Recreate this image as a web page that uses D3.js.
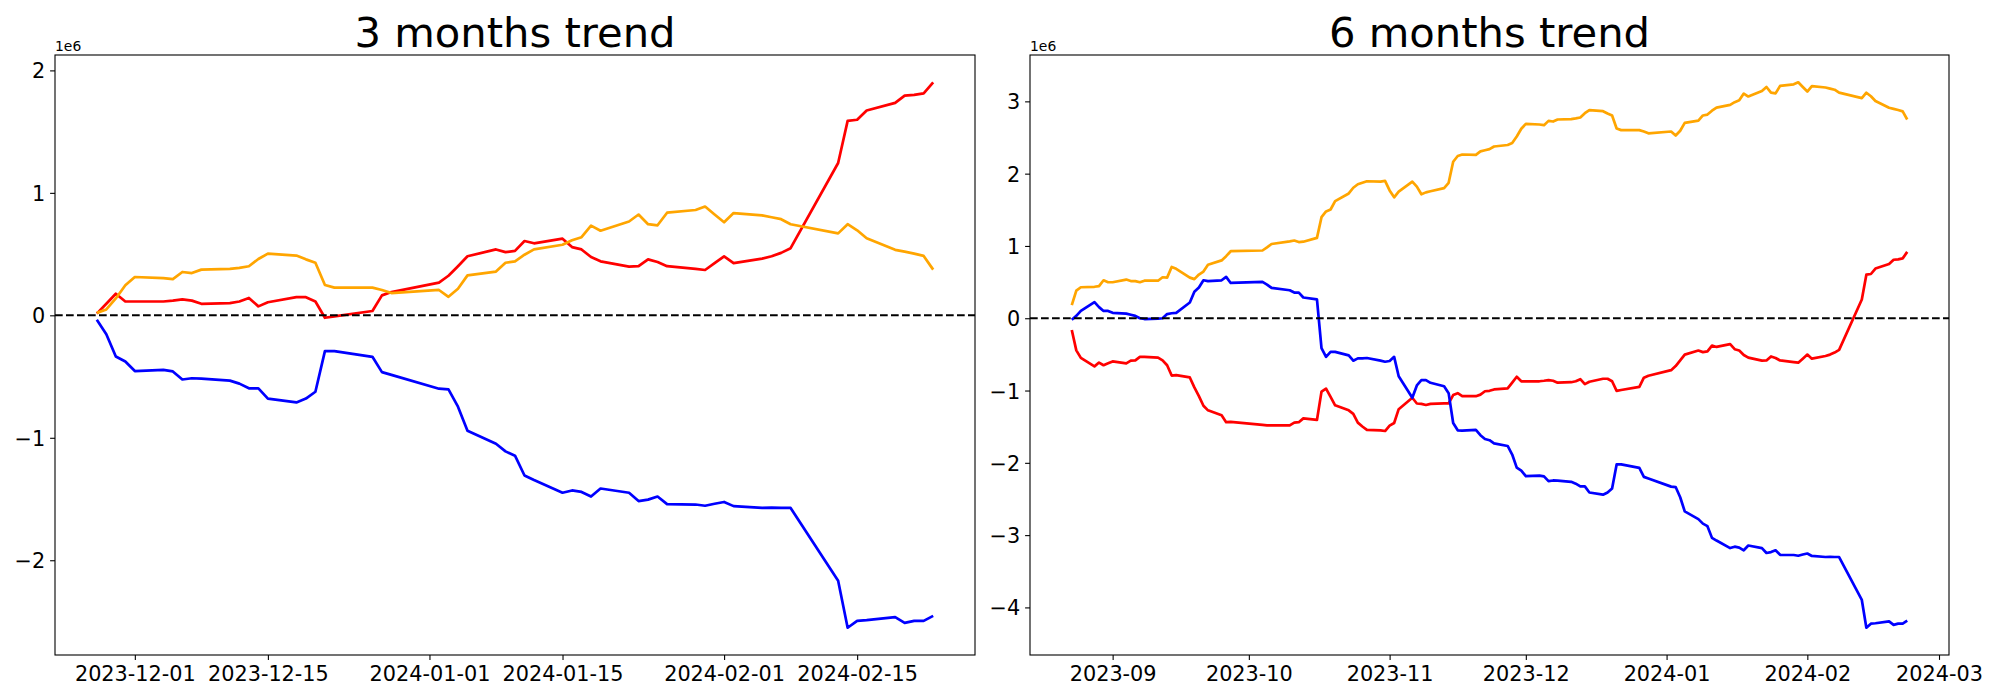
<!DOCTYPE html>
<html>
<head>
<meta charset="utf-8">
<script src="https://cdn.jsdelivr.net/npm/d3@7"></script>
<style>
  body { margin: 0; background: #fff; }
  svg { display: block; }
  text { font-family: "DejaVu Sans", sans-serif; fill: #000; }
</style>
</head>
<body>
<svg id="chart" width="2000" height="700"></svg>
<script>
// trading days, 2023-08-23 .. 2024-02-23
const days6 = ("2023-08-23 2023-08-24 2023-08-25 2023-08-28 2023-08-29 2023-08-30 2023-08-31 " +
  "2023-09-01 2023-09-04 2023-09-05 2023-09-06 2023-09-07 2023-09-08 2023-09-11 2023-09-12 2023-09-13 2023-09-14 2023-09-15 " +
  "2023-09-18 2023-09-19 2023-09-20 2023-09-21 2023-09-22 2023-09-25 2023-09-26 2023-09-27 " +
  "2023-10-04 2023-10-05 2023-10-06 2023-10-10 2023-10-11 2023-10-12 2023-10-13 2023-10-16 2023-10-17 2023-10-18 2023-10-19 2023-10-20 " +
  "2023-10-23 2023-10-24 2023-10-25 2023-10-26 2023-10-27 2023-10-30 2023-10-31 " +
  "2023-11-01 2023-11-02 2023-11-03 2023-11-06 2023-11-07 2023-11-08 2023-11-09 2023-11-10 2023-11-13 2023-11-14 2023-11-15 2023-11-16 2023-11-17 " +
  "2023-11-20 2023-11-21 2023-11-22 2023-11-23 2023-11-24 2023-11-27 2023-11-28 2023-11-29 2023-11-30 " +
  "2023-12-01 2023-12-04 2023-12-05 2023-12-06 2023-12-07 2023-12-08 2023-12-11 2023-12-12 2023-12-13 2023-12-14 2023-12-15 " +
  "2023-12-18 2023-12-19 2023-12-20 2023-12-21 2023-12-22 2023-12-26 2023-12-27 2023-12-28 " +
  "2024-01-02 2024-01-03 2024-01-04 2024-01-05 2024-01-08 2024-01-09 2024-01-10 2024-01-11 2024-01-12 2024-01-15 2024-01-16 2024-01-17 2024-01-18 2024-01-19 " +
  "2024-01-22 2024-01-23 2024-01-24 2024-01-25 2024-01-26 2024-01-29 2024-01-30 2024-01-31 " +
  "2024-02-01 2024-02-02 2024-02-05 2024-02-06 2024-02-07 2024-02-08 2024-02-13 2024-02-14 2024-02-15 2024-02-16 2024-02-19 2024-02-20 2024-02-21 2024-02-22 2024-02-23").split(" ");
const days3 = days6.slice(63);

// 3 months (values in 1e6)
const red3 = [0.014, 0.094, 0.176, 0.113, 0.113, 0.113, 0.12, 0.13, 0.12, 0.094, 0.10, 0.113, 0.142, 0.073, 0.107,
  0.148, 0.148, 0.113, -0.02, -0.008, 0.035, 0.163, 0.19, 0.267, 0.323, 0.401, 0.482, 0.538, 0.516, 0.526, 0.607, 0.588,
  0.626, 0.557, 0.538, 0.476, 0.441, 0.398, 0.401, 0.457, 0.435, 0.401, 0.379, 0.370, 0.426, 0.482, 0.426, 0.463, 0.482,
  0.510, 0.548, 1.244, 1.588, 1.597, 1.672, 1.735, 1.794, 1.80, 1.813, 1.903];
const orange3 = [0.020, 0.048, 0.138, 0.245, 0.313, 0.304, 0.295, 0.354, 0.345, 0.373, 0.379, 0.388, 0.401, 0.460, 0.504,
  0.488, 0.457, 0.429, 0.248, 0.226, 0.226, 0.207, 0.182, 0.207, 0.151, 0.217, 0.326, 0.357, 0.429, 0.441, 0.495, 0.538,
  0.576, 0.613, 0.638, 0.732, 0.691, 0.766, 0.823, 0.744, 0.735, 0.838, 0.860, 0.888, 0.823, 0.760, 0.835, 0.816, 0.801,
  0.785, 0.744, 0.669, 0.744, 0.694, 0.629, 0.535, 0.520, 0.504, 0.485, 0.373];
const blue3 = [-0.037, -0.155, -0.336, -0.377, -0.455, -0.446, -0.458, -0.524, -0.514, -0.517, -0.533, -0.558, -0.596, -0.596, -0.680,
  -0.711, -0.680, -0.624, -0.292, -0.292, -0.339, -0.464, -0.486, -0.599, -0.605, -0.746, -0.942, -1.049, -1.111, -1.146, -1.308, -1.345,
  -1.449, -1.430, -1.442, -1.480, -1.414, -1.449, -1.517, -1.505, -1.480, -1.542, -1.545, -1.555, -1.539, -1.524, -1.558, -1.573, -1.570,
  -1.573, -1.573, -2.167, -2.551, -2.495, -2.489, -2.464, -2.511, -2.495, -2.495, -2.454];

// 6 months (values in 1e6)
const red6 = [-0.163, -0.444, -0.549, -0.666, -0.613, -0.650, -0.624,
  -0.597, -0.624, -0.587, -0.582, -0.534, -0.534, -0.544, -0.582, -0.650, -0.793, -0.788, -0.819, -0.957, -1.078, -1.211, -1.274, -1.343, -1.438, -1.433,
  -1.475, -1.481, -1.481, -1.481, -1.444, -1.438, -1.385, -1.407, -1.015, -0.973, -1.089, -1.205, -1.274, -1.322, -1.444, -1.497, -1.544, -1.550, -1.560,
  -1.486, -1.449, -1.258, -1.100, -1.179, -1.185, -1.200, -1.185, -1.179, -1.179, -1.063, -1.036, -1.078, -1.078, -1.057, -1.010, -1.004, -0.985,
  -0.971, -0.891, -0.809, -0.872, -0.872, -0.872, -0.865, -0.855, -0.865, -0.891, -0.885, -0.872, -0.843, -0.912, -0.878,
  -0.837, -0.837, -0.872, -1.005, -0.993, -0.950, -0.822, -0.795, -0.718, -0.662, -0.584, -0.503, -0.447, -0.469, -0.459, -0.378, -0.397,
  -0.359, -0.428, -0.447, -0.509, -0.544, -0.587, -0.584, -0.528, -0.550, -0.584, -0.606, -0.615, -0.559, -0.503, -0.559, -0.522, -0.503,
  -0.475, -0.437, 0.259, 0.603, 0.612, 0.687, 0.750, 0.809, 0.815, 0.828, 0.918];
const orange6 = [0.181, 0.382, 0.429, 0.435, 0.445, 0.525, 0.498,
  0.498, 0.535, 0.514, 0.514, 0.498, 0.519, 0.519, 0.567, 0.562, 0.710, 0.683, 0.562, 0.541, 0.604, 0.646, 0.741, 0.800, 0.858, 0.927,
  0.937, 0.980, 1.027, 1.064, 1.075, 1.054, 1.059, 1.112, 1.398, 1.477, 1.504, 1.620, 1.726, 1.805, 1.853, 1.874, 1.895, 1.890, 1.900,
  1.768, 1.673, 1.752, 1.890, 1.821, 1.715, 1.741, 1.757, 1.800, 1.874, 2.165, 2.244, 2.265, 2.260, 2.308, 2.323, 2.339, 2.376,
  2.396, 2.424, 2.514, 2.621, 2.689, 2.680, 2.671, 2.730, 2.721, 2.749, 2.755, 2.764, 2.777, 2.836, 2.880,
  2.864, 2.833, 2.805, 2.624, 2.602, 2.602, 2.583, 2.558, 2.583, 2.527, 2.593, 2.702, 2.733, 2.805, 2.817, 2.871, 2.914,
  2.952, 2.989, 3.014, 3.108, 3.067, 3.142, 3.199, 3.120, 3.111, 3.214, 3.236, 3.264, 3.199, 3.136, 3.211, 3.192, 3.177,
  3.161, 3.120, 3.045, 3.120, 3.070, 3.005, 2.911, 2.896, 2.880, 2.861, 2.749];
const blue6 = [-0.020, 0.033, 0.101, 0.223, 0.154, 0.101, 0.101,
  0.075, 0.064, 0.048, 0.033, 0.0, -0.011, -0.005, 0.0, 0.058, 0.069, 0.075, 0.218, 0.366, 0.424, 0.525, 0.514, 0.525, 0.572, 0.488,
  0.503, 0.466, 0.419, 0.387, 0.355, 0.355, 0.287, 0.260, -0.412, -0.534, -0.465, -0.465, -0.513, -0.587, -0.555, -0.555, -0.550, -0.587, -0.602,
  -0.592, -0.534, -0.803, -1.100, -0.930, -0.857, -0.857, -0.893, -0.941, -1.036, -1.449, -1.550, -1.555, -1.544, -1.618, -1.671, -1.687, -1.730,
  -1.767, -1.885, -2.066, -2.107, -2.185, -2.176, -2.188, -2.254, -2.244, -2.247, -2.263, -2.288, -2.326, -2.326, -2.410,
  -2.441, -2.410, -2.354, -2.022, -2.022, -2.069, -2.194, -2.216, -2.329, -2.335, -2.476, -2.672, -2.779, -2.841, -2.876, -3.038, -3.075,
  -3.179, -3.160, -3.172, -3.210, -3.144, -3.179, -3.247, -3.235, -3.210, -3.272, -3.275, -3.285, -3.269, -3.254, -3.288, -3.303, -3.300,
  -3.303, -3.303, -3.897, -4.281, -4.225, -4.219, -4.194, -4.241, -4.225, -4.225, -4.184];

const ticks3 = ["2023-12-01", "2023-12-15", "2024-01-01", "2024-01-15", "2024-02-01", "2024-02-15"];
const ticks6 = ["2023-09-01", "2023-10-01", "2023-11-01", "2023-12-01", "2024-01-01", "2024-02-01", "2024-03-01"];

const parse = d3.utcParse("%Y-%m-%d");
const svg = d3.select("#chart");
const plotTop = 55, plotBottom = 655;

function drawPanel(title, x0, x1, days, series, ticks, fmt) {
    const dates = days.map(parse);
    const [t0, t1] = d3.extent(dates);
    const padT = (t1 - t0) * 0.05;
    const x = d3.scaleUtc().domain([new Date(+t0 - padT), new Date(+t1 + padT)]).range([x0, x1]);

    const all = series.flatMap(s => s.values);
    const [lo, hi] = d3.extent(all);
    const padV = (hi - lo) * 0.05;
    const y = d3.scaleLinear().domain([lo - padV, hi + padV]).range([plotBottom, plotTop]);

    const g = svg.append("g");

    series.forEach(s => {
        const line = d3.line().x((d, i) => x(dates[i])).y(d => y(d));
        g.append("path")
            .datum(s.values)
            .attr("fill", "none")
            .attr("stroke", s.color)
            .attr("stroke-width", 2.7)
            .attr("stroke-linejoin", "round")
            .attr("d", line);
    });

    g.append("line")
        .attr("x1", x0).attr("x2", x1)
        .attr("y1", y(0)).attr("y2", y(0))
        .attr("stroke", "#000")
        .attr("stroke-width", 2.1)
        .attr("stroke-dasharray", "7.7,3.3");

    const xAxis = g.append("g")
        .attr("transform", `translate(0,${plotBottom})`)
        .call(d3.axisBottom(x).tickValues(ticks.map(parse)).tickFormat(d3.utcFormat(fmt)).tickSize(4.9).tickPadding(4.9));
    const yAxis = g.append("g")
        .attr("transform", `translate(${x0},0)`)
        .call(d3.axisLeft(y).ticks(8).tickFormat(d3.format("d")).tickSize(4.9).tickPadding(4.9));
    [xAxis, yAxis].forEach(a => {
        a.select(".domain").remove();
        a.selectAll(".tick line").attr("stroke", "#000").attr("stroke-width", 1.1);
        a.selectAll(".tick text").attr("font-size", 20.8).attr("font-family", "DejaVu Sans").attr("fill", "#000");
    });
    yAxis.selectAll(".tick").filter(d => !Number.isInteger(d)).remove();
    yAxis.selectAll(".tick text").attr("dy", "0.36em");
    xAxis.selectAll(".tick text").attr("dy", "0.76em");

    g.append("rect")
        .attr("x", x0).attr("y", plotTop)
        .attr("width", x1 - x0).attr("height", plotBottom - plotTop)
        .attr("fill", "none")
        .attr("stroke", "#000")
        .attr("stroke-width", 1.1);

    g.append("text")
        .attr("x", x0).attr("y", 51)
        .attr("font-size", 13.9)
        .text("1e6");

    g.append("text")
        .attr("x", (x0 + x1) / 2).attr("y", 46.5)
        .attr("text-anchor", "middle")
        .attr("font-size", 41.7)
        .text(title);
}

drawPanel("3 months trend", 55, 975, days3, [
    { values: red3, color: "red" },
    { values: blue3, color: "blue" },
    { values: orange3, color: "orange" }
], ticks3, "%Y-%m-%d");

drawPanel("6 months trend", 1030, 1949, days6, [
    { values: red6, color: "red" },
    { values: blue6, color: "blue" },
    { values: orange6, color: "orange" }
], ticks6, "%Y-%m");
</script>
</body>
</html>
